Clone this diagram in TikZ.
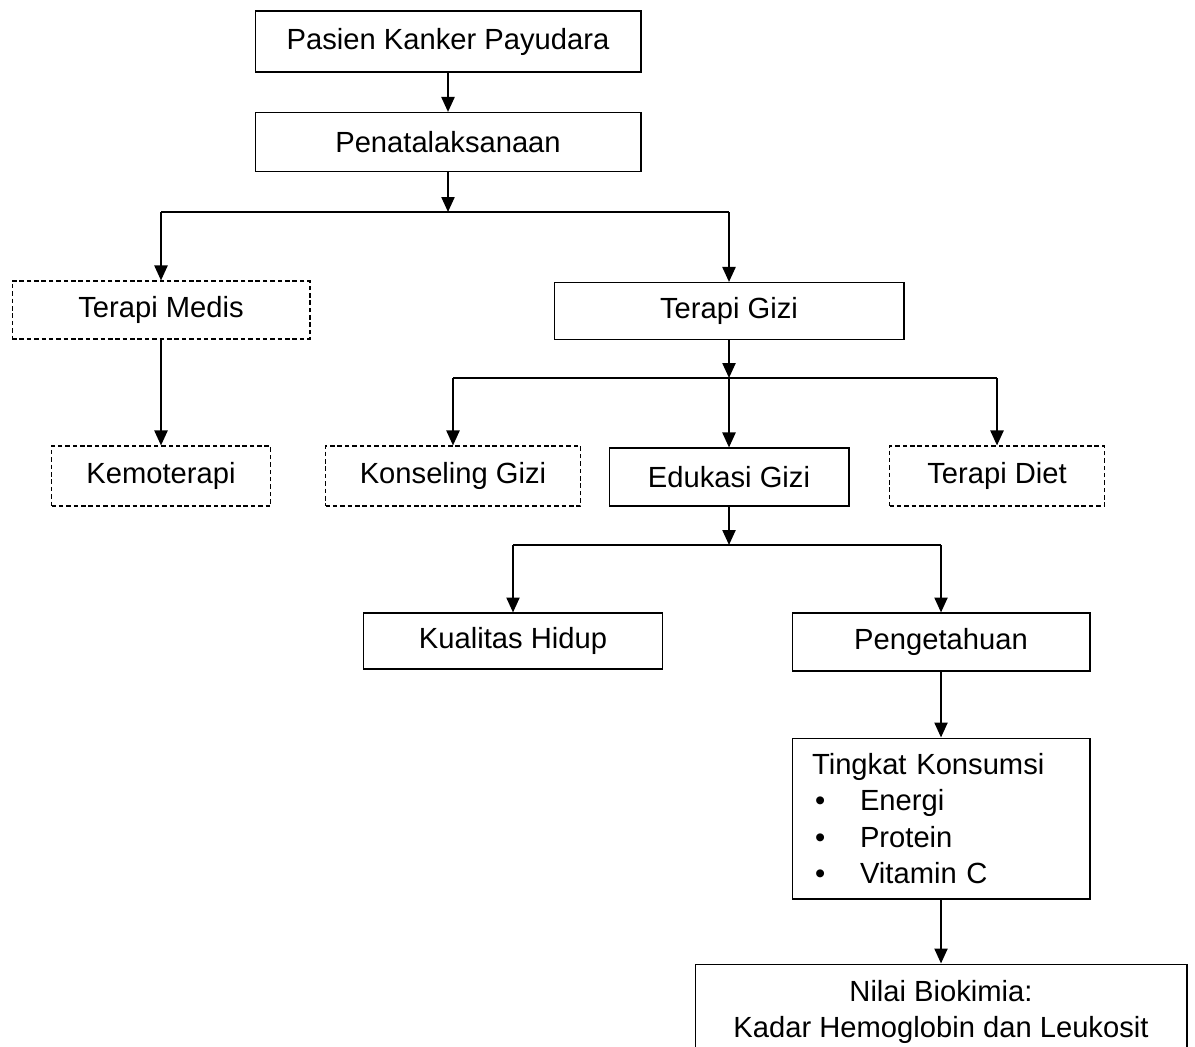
\documentclass[tikz,border=0pt]{standalone}
\usepackage{fontspec}
\setmainfont{Liberation Sans}
\usetikzlibrary{arrows.meta}

\newcommand{\konsbullet}{\makebox[0.96cm][l]{\hspace{0.06cm}\textbullet}}

\begin{document}
\begin{tikzpicture}[x=0.02cm, y=-0.02cm,
  box/.style={draw, line width=0.6pt, inner sep=0pt, align=center,
    font=\fontsize{16.6pt}{20.8pt}\selectfont},
  dbox/.style={box, dash pattern=on 2.6pt off 1.6pt},
  arr/.style={line width=1.3pt, -{Triangle[length=0.3cm, width=0.26cm]}},
  hline/.style={line width=0.6pt}]

\useasboundingbox (0,0) rectangle (1195,1046);

%Draw top boxes
\node[box, minimum width=7.72cm, minimum height=1.22cm] (pasien) at (448,41.5) {Pasien Kanker Payudara};
\node[box, minimum width=7.72cm, minimum height=1.18cm] (penata) at (448,142) {Penatalaksanaan};

%Draw first branch
\node[dbox, minimum width=5.96cm, minimum height=1.16cm] (medis) at (161,310) {Terapi Medis};
\node[box, minimum width=7.0cm, minimum height=1.14cm] (gizi) at (729,311) {Terapi Gizi};
\node[dbox, minimum width=4.38cm, minimum height=1.2cm] (kemo) at (161,476) {Kemoterapi};

%Draw second branch
\node[dbox, minimum width=5.1cm, minimum height=1.2cm] (konseling) at (453,476) {Konseling Gizi};
\node[box, minimum width=4.8cm, minimum height=1.16cm] (edukasi) at (729,477) {Edukasi Gizi};
\node[dbox, minimum width=4.3cm, minimum height=1.2cm] (diet) at (997,476) {Terapi Diet};

%Draw third branch
\node[box, minimum width=5.98cm, minimum height=1.12cm] (kualitas) at (513,641) {Kualitas Hidup};
\node[box, minimum width=5.96cm, minimum height=1.16cm] (pengetahuan) at (941,642) {Pengetahuan};
\node[box, text width=5.16cm, inner xsep=0.4cm, align=left, minimum height=3.22cm] (konsumsi) at (941,818.5)
  {Tingkat Konsumsi\\ \konsbullet Energi\\ \konsbullet Protein\\ \konsbullet Vitamin C};
\node[box, minimum width=9.84cm, minimum height=1.92cm] (nilai) at (941,1012)
  {Nilai Biokimia:\\ Kadar Hemoglobin dan Leukosit};

%Draw junctions
\coordinate (j1) at (448,212);
\coordinate (j2) at (729,378);
\coordinate (j3) at (729,545);

%Draw arrows
\draw[arr] (pasien) -- (penata);
\draw[arr] (penata) -- (j1);
\draw[hline] (medis |- j1) -- (gizi |- j1);
\draw[arr] (medis |- j1) -- (medis);
\draw[arr] (gizi |- j1) -- (gizi);
\draw[arr] (medis) -- (kemo);

\draw[arr] (gizi) -- (j2);
\draw[hline] (konseling |- j2) -- (diet |- j2);
\draw[arr] (konseling |- j2) -- (konseling);
\draw[arr] (j2) -- (edukasi);
\draw[arr] (diet |- j2) -- (diet);

\draw[arr] (edukasi) -- (j3);
\draw[hline] (kualitas |- j3) -- (pengetahuan |- j3);
\draw[arr] (kualitas |- j3) -- (kualitas);
\draw[arr] (pengetahuan |- j3) -- (pengetahuan);
\draw[arr] (pengetahuan) -- (konsumsi);
\draw[arr] (konsumsi) -- (nilai);

\end{tikzpicture}
\end{document}
